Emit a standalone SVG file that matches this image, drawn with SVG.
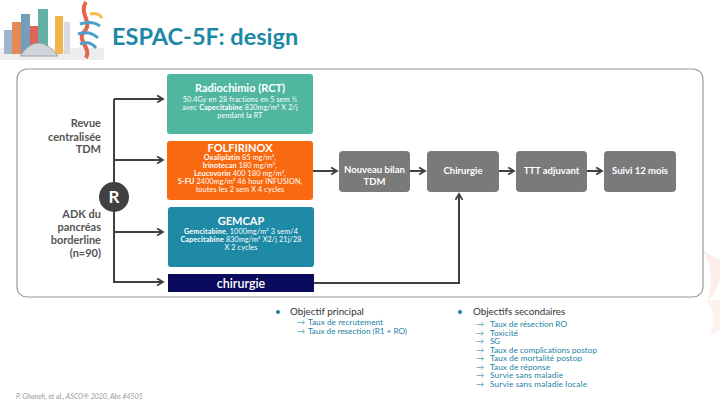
<svg xmlns="http://www.w3.org/2000/svg" width="720" height="405" viewBox="0 0 720 405">
<defs>
<style>
text{font-family:Lato,"Open Sans","Liberation Sans",sans-serif}
.title{font-size:23.5px;font-weight:700;fill:#1B88A6}
.side{font-size:11px;font-weight:700;fill:#555;text-anchor:end}
.bt{font-size:11px;font-weight:700;fill:#fff;text-anchor:middle}
.bs{font-size:7.2px;letter-spacing:0.15px;fill:#fff;text-anchor:middle}
.b{font-weight:700}
.gt{font-size:9.5px;font-weight:700;fill:#fff;text-anchor:middle}
.conn{fill:none;stroke:#404040;stroke-width:2}
.gbox{fill:#7A7A7A}
.obj{font-size:9.8px;fill:#333}
.sub{font-size:8.2px;fill:#1B7FA3}
.arr{fill:#5AA8C0}
.foot{font-size:7px;font-style:italic;fill:#9A9A9A}
</style>
<marker id="ah" viewBox="0 0 10 10" refX="8" refY="5" markerWidth="9" markerHeight="9" markerUnits="userSpaceOnUse" orient="auto">
<path d="M1.5,1 L8,5 L1.5,9" fill="none" stroke="#404040" stroke-width="2"/>
</marker>
</defs>
<rect width="720" height="405" fill="#fff"/>
<g id="logo" opacity="0.85">
<rect x="0" y="48" width="104" height="12" fill="#ECECEC"/>
<rect x="4" y="30" width="8" height="24" fill="#8EA9C4"/>
<rect x="12" y="22" width="9" height="32" fill="#E0763A"/>
<rect x="21" y="14" width="9" height="40" fill="#5C8FB0"/>
<rect x="30" y="26" width="8" height="28" fill="#D94A3A"/>
<rect x="38" y="9" width="10" height="45" fill="#4AA39A"/>
<rect x="55" y="16" width="8" height="38" fill="#F0A830"/>
<rect x="64" y="22" width="6" height="32" fill="#D0D6DE"/>
<path d="M20,56 Q38,30 58,56 Z" fill="#C8CED6" stroke="#8E949C" stroke-width="1"/>
<path d="M86,2 C78,14 94,22 84,32 C76,40 92,48 86,58" fill="none" stroke="#E24A2C" stroke-width="4"/>
<path d="M80,24 Q92,20 100,26 M78,34 Q90,30 98,38 M80,44 Q90,40 96,48" fill="none" stroke="#2F8FC6" stroke-width="3"/>
<path d="M90,14 Q98,12 102,18" fill="none" stroke="#F2B12E" stroke-width="3"/>
</g>
<text class="title" x="112" y="45">ESPAC-5F: design</text>
<path d="M702,250 Q716,270 708,300 Q722,290 720,260 Z" fill="#FBE3DC" opacity="0.6"/>
<path d="M706,300 Q718,315 710,335 L720,330 L720,300 Z" fill="#FCEAE3" opacity="0.6"/>
<rect id="frame" x="17" y="69" width="686" height="228" rx="10" fill="none" stroke="#9A9A9A" stroke-width="1.2"/>
<g id="connectors">
<path class="conn" d="M114,99 V283"/>
<path class="conn" d="M114,99 H163" marker-end="url(#ah)"/>
<path class="conn" d="M114,160 H163" marker-end="url(#ah)"/>
<path class="conn" d="M114,232 H163" marker-end="url(#ah)"/>
<path class="conn" d="M114,282 H163" marker-end="url(#ah)"/>
<path class="conn" d="M313,171 H337" marker-end="url(#ah)"/>
<path class="conn" d="M410,171 H425" marker-end="url(#ah)"/>
<path class="conn" d="M499,171 H514" marker-end="url(#ah)"/>
<path class="conn" d="M587,171 H602" marker-end="url(#ah)"/>
<path class="conn" d="M314,283 H459 V194" marker-end="url(#ah)"/>
</g>
<g id="labels">
<text class="side" x="101" y="127">Revue</text>
<text class="side" x="101" y="141">centralisée</text>
<text class="side" x="101" y="153">TDM</text>
<text class="side" x="101" y="218">ADK du</text>
<text class="side" x="101" y="231">pancréas</text>
<text class="side" x="101" y="244">borderline</text>
<text class="side" x="101" y="257">(n=90)</text>
</g>
<g id="R">
<circle cx="114" cy="197" r="15" fill="#404040"/>
<text x="114" y="203" font-size="17" font-weight="700" fill="#fff" text-anchor="middle">R</text>
</g>
<g id="rct">
<rect x="167" y="74" width="146" height="60" rx="3" fill="#50B69F"/>
<text class="bt" x="240" y="92">Radiochimio (RCT)</text>
<text class="bs" x="240" y="101.5">50.4Gy en 28 fractions  en 5 sem ½</text>
<text class="bs" x="240" y="109.7">avec <tspan class="b">Capecitabine</tspan> 830mg/m² X 2/j</text>
<text class="bs" x="240" y="117.7">pendant la RT</text>
</g>
<g id="folfirinox">
<rect x="167" y="141" width="146" height="59" rx="3" fill="#F96A10"/>
<text class="bt" x="240" y="152">FOLFIRINOX</text>
<text class="bs" x="240" y="160"><tspan class="b">Oxaliplatin</tspan> 85 mg/m²,</text>
<text class="bs" x="240" y="168"><tspan class="b">Irinotecan</tspan> 180 mg/m²,</text>
<text class="bs" x="240" y="176"><tspan class="b">Leucovorin</tspan> 400 180 mg/m²,</text>
<text class="bs" x="240" y="184"><tspan class="b">5-FU</tspan> 2400mg/m² 46 hour INFUSION,</text>
<text class="bs" x="240" y="192.2">toutes les 2 sem X  4 cycles</text>
</g>
<g id="gemcap">
<rect x="168" y="207" width="146" height="60" rx="3" fill="#1E8AA6"/>
<text class="bt" x="241" y="225">GEMCAP</text>
<text class="bs" x="241" y="234"><tspan class="b">Gemcitabine</tspan>, 1000mg/m² 3 sem/4</text>
<text class="bs" x="241" y="242.2"><tspan class="b">Capecitabine</tspan> 830mg/m² X2/j  21j/28</text>
<text class="bs" x="241" y="250.4">X 2 cycles</text>
</g>
<g id="chirurgie-arm">
<rect x="168" y="274" width="146" height="18" fill="#0B0B5E"/>
<text x="241" y="288" font-size="12.5" font-weight="600" fill="#fff" text-anchor="middle">chirurgie</text>
</g>
<g id="bilan">
<rect class="gbox" x="339" y="151" width="71" height="41" rx="4"/>
<text class="gt" x="374.5" y="173">Nouveau bilan</text>
<text class="gt" x="374.5" y="185">TDM</text>
</g>
<g id="chirurgie">
<rect class="gbox" x="427" y="151" width="72" height="41" rx="4"/>
<text class="gt" x="463" y="174">Chirurgie</text>
</g>
<g id="ttt">
<rect class="gbox" x="516" y="151" width="71" height="41" rx="4"/>
<text class="gt" x="551.5" y="174">TTT adjuvant</text>
</g>
<g id="suivi">
<rect class="gbox" x="604" y="151" width="72" height="41" rx="4"/>
<text class="gt" x="640" y="174">Suivi 12 mois</text>
</g>
<g id="objectifs">
<circle cx="278" cy="312" r="2" fill="#1B7FA3"/>
<text class="obj" x="290" y="315">Objectif principal</text>
<text class="sub" x="297" y="325"><tspan class="arr">→</tspan><tspan x="308" textLength="75" lengthAdjust="spacing">Taux de recrutement</tspan></text>
<text class="sub" x="297" y="334"><tspan class="arr">→</tspan><tspan x="308" textLength="99" lengthAdjust="spacing">Taux de resection (R1 + RO)</tspan></text>
<circle cx="460" cy="312" r="2" fill="#1B7FA3"/>
<text class="obj" x="473" y="315">Objectifs secondaires</text>
<text class="sub" x="476" y="327"><tspan class="arr">→</tspan><tspan x="490" textLength="77" lengthAdjust="spacing">Taux de résection RO</tspan></text>
<text class="sub" x="476" y="335.5"><tspan class="arr">→</tspan><tspan x="490" textLength="28" lengthAdjust="spacing">Toxicité</tspan></text>
<text class="sub" x="476" y="344"><tspan class="arr">→</tspan><tspan x="490" textLength="10" lengthAdjust="spacing">SG</tspan></text>
<text class="sub" x="476" y="352.5"><tspan class="arr">→</tspan><tspan x="490" textLength="107" lengthAdjust="spacing">Taux de complications postop</tspan></text>
<text class="sub" x="476" y="361"><tspan class="arr">→</tspan><tspan x="490" textLength="92" lengthAdjust="spacing">Taux de mortalité postop</tspan></text>
<text class="sub" x="476" y="369.5"><tspan class="arr">→</tspan><tspan x="490" textLength="60" lengthAdjust="spacing">Taux de réponse</tspan></text>
<text class="sub" x="476" y="378"><tspan class="arr">→</tspan><tspan x="490" textLength="73" lengthAdjust="spacing">Survie sans maladie</tspan></text>
<text class="sub" x="476" y="386.5"><tspan class="arr">→</tspan><tspan x="490" textLength="97" lengthAdjust="spacing">Survie sans maladie locale</tspan></text>
</g>
<text class="foot" x="16" y="399">P. Ghaneh, et al., ASCO® 2020, Abs #4505</text>
</svg>
